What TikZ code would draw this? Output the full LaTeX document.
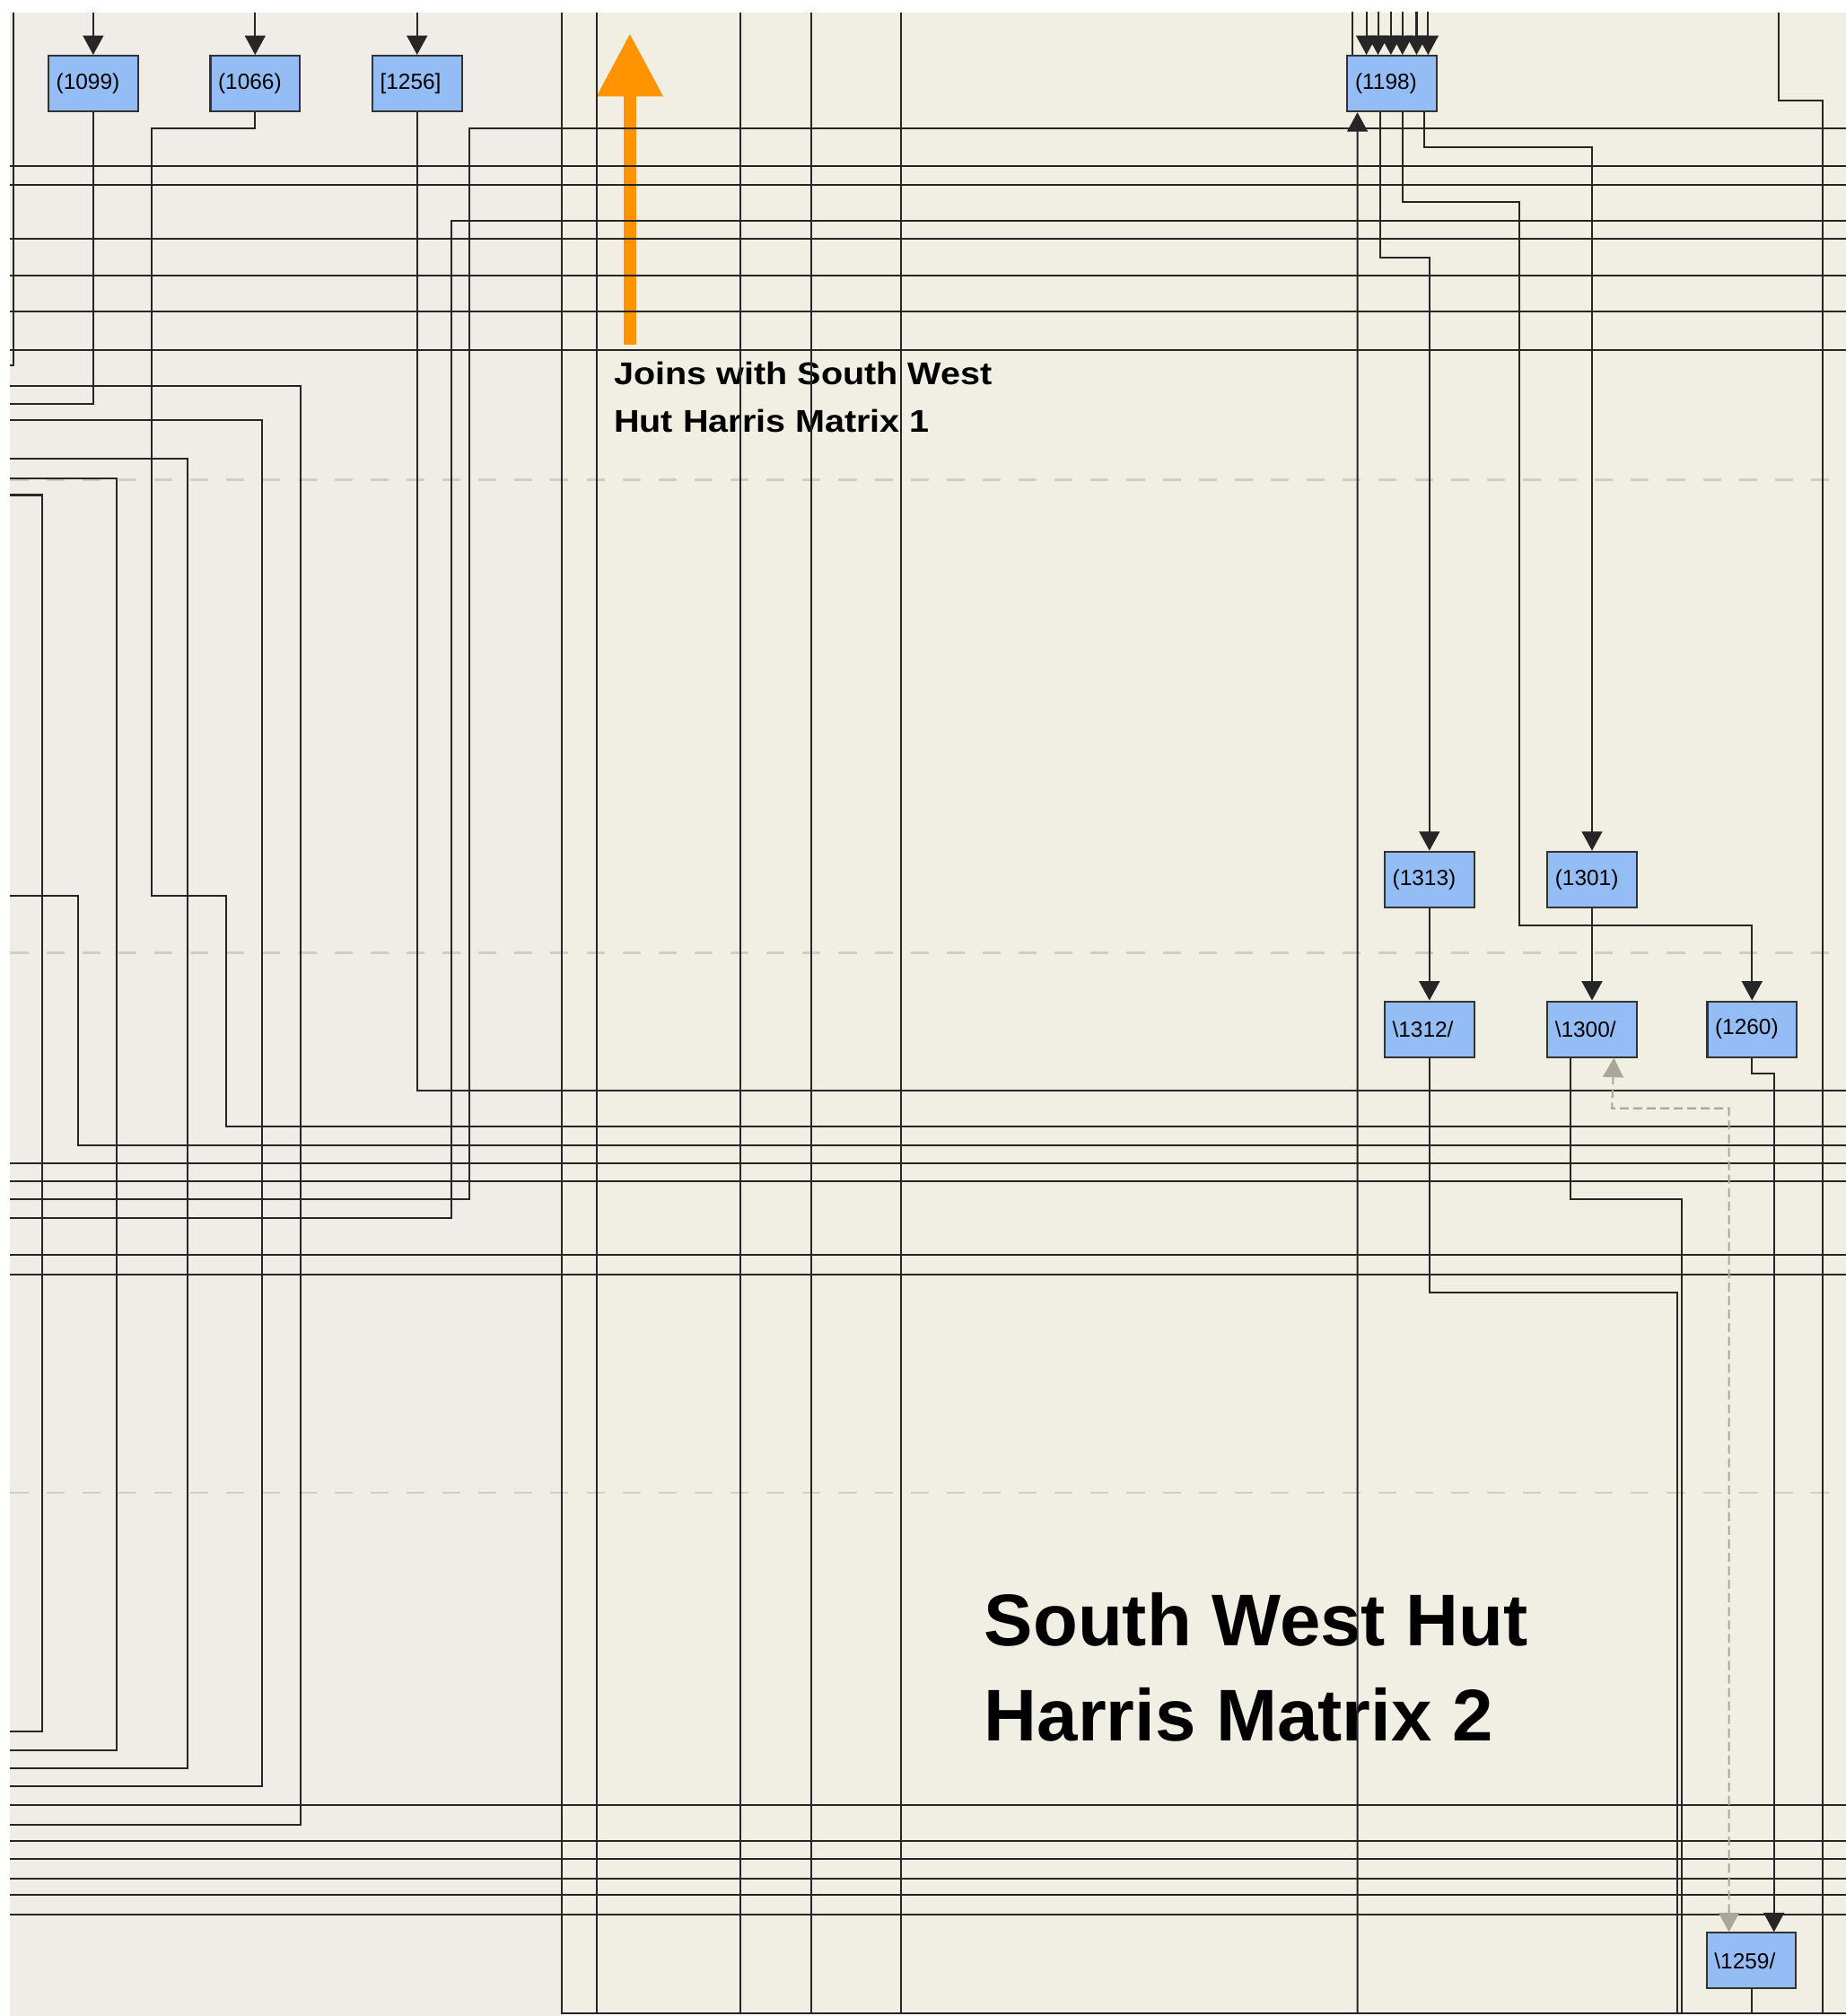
\documentclass[tikz,border=0pt]{standalone}
\usepackage{fontspec}
\setmainfont{Liberation Sans}
\newfontfamily\joinfont[FakeStretch=1.13]{Liberation Sans}
\usetikzlibrary{positioning,arrows.meta}

\definecolor{pinkbg}{RGB}{240,236,231}
\definecolor{creambg}{RGB}{241,239,228}
\definecolor{unitblue}{RGB}{148,189,245}
\definecolor{orangearr}{RGB}{255,148,0}
\definecolor{dashgrey}{RGB}{206,206,198}
\definecolor{linkgrey}{RGB}{168,168,152}

\begin{document}
\begin{tikzpicture}[
    x=0.01cm, y=-0.01cm,
    ubox/.style={draw=black!80, fill=unitblue, line width=0.4pt,
                 minimum height=0.433cm, text width=0.575cm,
                 inner xsep=0.06cm, inner ysep=0pt, align=left,
                 font=\fontsize{4.85pt}{5.5pt}\selectfont},
    link/.style={draw=black!85, line width=0.4pt},
    arr/.style ={link, -{Triangle[length=0.15cm, width=0.16cm]}},
    dlink/.style={draw=linkgrey, line width=0.4pt,
                  dash pattern=on 0.07cm off 0.035cm,
                  {Triangle[length=0.15cm, width=0.16cm]}-{Triangle[length=0.15cm, width=0.16cm]}},
    rowline/.style={draw=dashgrey, line width=0.5pt,
                    dash pattern=on 0.14cm off 0.14cm},
    lbl/.style={inner sep=0pt, anchor=north west, align=left},
    joinarrow/.style={draw=orangearr, line width=0.1cm,
                      -{Triangle[length=0.49cm, width=0.49cm]}}
  ]
  \useasboundingbox (0,0) rectangle (1436,1568);
  % backgrounds
  \fill[white] (0,0) rectangle (1436,1568);
  \fill[pinkbg] (8,10) rectangle (437,1568);
  \fill[creambg] (437,10) rectangle (1436,1566);
  \foreach \y in {373,741,1161}
    \draw[rowline] (8,\y) -- (1436,\y);

  \coordinate (top) at (0,10);
  \coordinate (bot) at (0,1566);

  % units
  \node[ubox] (n1099) at (72.5,65) {(1099)};
  \node[ubox, right=0.55cm of n1099] (n1066) {(1066)};
  \node[ubox, right=0.55cm of n1066] (n1256) {[1256]};
  \node[ubox] (n1198) at (1083,65) {(1198)};
  \node[ubox] (n1313) at (1112,684) {(1313)};
  \node[ubox, right=0.555cm of n1313] (n1301) {(1301)};
  \node[ubox, below=0.717cm of n1313] (n1312) {\textbackslash 1312/};
  \node[ubox, below=0.717cm of n1301] (n1300) {\textbackslash 1300/};
  \node[ubox, right=0.535cm of n1300] (n1260) {(1260)};
  \node[ubox] (n1259) at (1362.5,1525) {\textbackslash 1259/};

  % labels
  \node[lbl, font=\joinfont\bfseries\fontsize{6.95pt}{10.5pt}\selectfont]
    (joins) at (477,281) {Joins with South West\\Hut Harris Matrix 1};
  \node[lbl, font=\bfseries\fontsize{16.2pt}{21pt}\selectfont]
    (title) at (765,1238) {South West Hut\\Harris Matrix 2};
  \draw[joinarrow] ([xshift=0.13cm, yshift=0.13cm]joins.north west) -- ++(0,-242);

  % lines passing through
  \foreach \y in {129,144,186,214,242,272,905,919,976,991,1404,1432,1446,1461,1474,1489}
    \draw[link] (8,\y) -- (1436,\y);
  \foreach \ya/\xx/\yb in {300/234/1419, 327/204/1389, 357/146/1375, 372/91/1361, 385/33/1347}
    \draw[link] (8,\ya) -| (\xx,\yb) -- (8,\yb);
  \draw[link] (8,284) -| (10.5,10);
  \draw[link] (8,697) -| (61,891) -- (1436,891);
  \draw[link] (8,933) -| (365,100) -- (1436,100);
  \draw[link] (8,947) -| (351,172) -- (1436,172);
  \draw[link] (437,10) -- (437,1566) -- (1436,1566);
  \foreach \x in {464,576,631,701}
    \draw[link] (\x,10) -- (\x,1566);
  \draw[link] (1384,10) |- (1418,78) -- (1418,1566);

  % left units
  \foreach \n in {n1099,n1066,n1256}
    \draw[arr] (\n |- top) -- (\n);
  \draw[link] (n1099.south) |- (8,314);
  \draw[link] (n1066.south) |- (118,100) |- (176,697) |- (1436,876);
  \draw[link] (n1256.south) |- (1436,848);

  % (1198) and below
  \draw[link] ([xshift=-0.31cm, yshift=0.333cm]n1198.north) -- ([xshift=-0.31cm]n1198.north);
  \foreach \s in {-20,-11,-1,8,19,28}
    \draw[arr] ([xshift=\s*0.01cm, yshift=0.333cm]n1198.north) -- ([xshift=\s*0.01cm]n1198.north);
  \coordinate (b1198) at (1056,1566);
  \coordinate (b1312) at (1305,1566);
  \coordinate (b1300) at (1308,1566);
  \draw[arr] (b1198) -- ([xshift=-0.27cm]n1198.south);
  \draw[arr] ([xshift=-0.09cm]n1198.south) -- ++(0,113) -| (n1313.north);
  \draw[arr] ([xshift=0.08cm]n1198.south) -- ++(0,70) -| (1182,720) -| (n1260.north);
  \draw[arr] ([xshift=0.25cm]n1198.south) -- ++(0,27) -| (n1301.north);
  \draw[arr] (n1313) -- (n1312);
  \draw[arr] (n1301) -- (n1300);
  \draw[link] (n1312.south) |- (1305,1005) -- (b1312);
  \draw[link] ([xshift=-0.17cm]n1300.south) |- (1308,933) -- (b1300);
  \draw[arr] (n1260.south) -- ++(0,12) -| ([xshift=0.175cm]n1259.north);
  \draw[dlink] ([xshift=-0.175cm]n1259.north) |- (1254,862) -- ([xshift=0.17cm]n1300.south);
  \draw[link] (n1259.south) -- (n1259 |- bot);
\end{tikzpicture}
\end{document}
